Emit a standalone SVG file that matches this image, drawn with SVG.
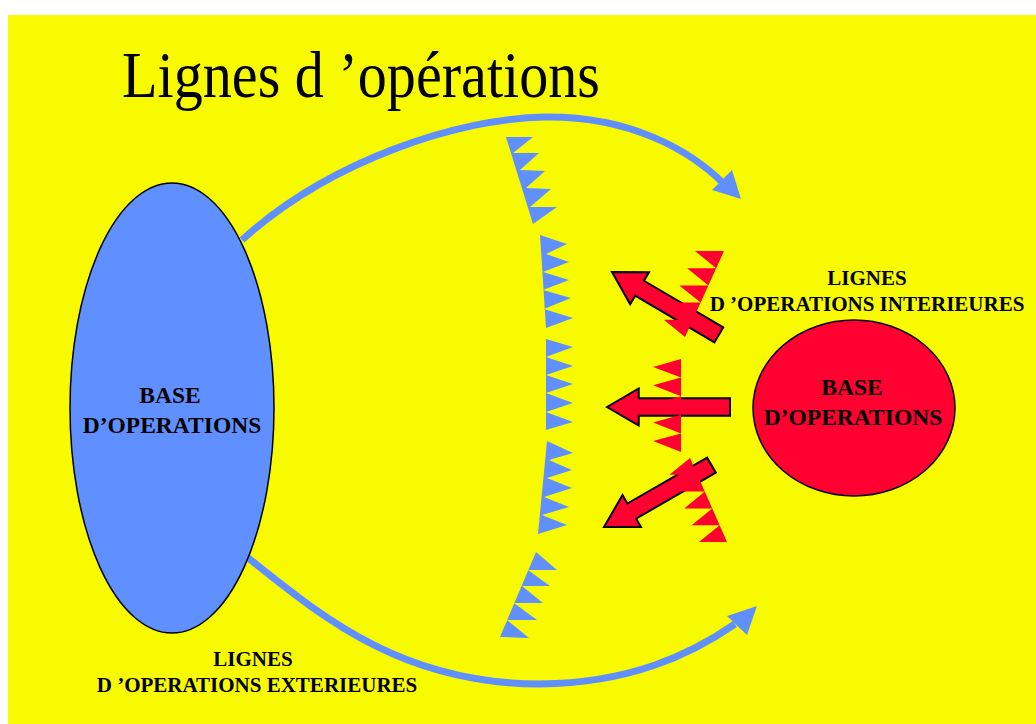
<svg xmlns="http://www.w3.org/2000/svg" xmlns:xlink="http://www.w3.org/1999/xlink" width="1036" height="724" viewBox="0 0 1036 724">
  <style>
    .title { font-family: "Liberation Serif", "Times New Roman", serif; font-size: 66px; fill: #000; }
    .base { font-family: "Liberation Serif", "Times New Roman", serif; font-weight: bold; font-size: 23.5px; fill: #000; text-anchor: middle; }
    .lbl { font-family: "Liberation Serif", "Times New Roman", serif; font-weight: bold; font-size: 21px; fill: #000; text-anchor: middle; }
    .arc { fill: none; stroke: #6090FF; stroke-width: 7; }
    .bluehead { fill: #6090FF; }
    .bluefront { fill: #6090FF; }
    .redfront { fill: #FF0030; }
    .redarrow { fill: #FF0030; stroke: #000; stroke-width: 2; stroke-linejoin: miter; }
  </style>
  <defs>
    <!-- thick arrow pointing along -x, tip at origin -->
    <path id="redArrow" d="M0,0 L32,-18.5 L32,-8.7 L124,-8.7 L124,8.7 L32,8.7 L32,18.5 Z"/>
  </defs>

  <!-- page -->
  <rect x="0" y="0" width="1036" height="724" fill="#FFFFFF"/>
  <rect x="8" y="15" width="1028" height="709" fill="#F8FB00"/>

  <text class="title" x="122" y="97" textLength="478" lengthAdjust="spacingAndGlyphs">Lignes d ’opérations</text>

  <!-- exterior lines of operations -->
  <g id="connectors">
    <path class="arc" d="M242,240 C330,160 460,118 545,117 C630,116 690,150 724,184"/>
    <polygon class="bluehead" points="741,199 732,170 712,190"/>
    <path class="arc" d="M247,557 C320,615 400,684 540,684 C630,683 690,655 735,624"/>
    <polygon class="bluehead" points="757,606 727,616 747,635"/>
  </g>

  <g id="base-left">
    <ellipse cx="172" cy="408" rx="102" ry="225" fill="#6090FF" stroke="#000" stroke-width="1.5"/>
    <text class="base" x="170" y="403">BASE</text>
    <text class="base" x="172" y="433">D’OPERATIONS</text>
  </g>

  <g id="base-right">
    <ellipse cx="854" cy="408" rx="101" ry="88" fill="#FF0030" stroke="#000" stroke-width="1.5"/>
    <text class="base" x="852" y="395">BASE</text>
    <text class="base" x="853" y="425">D’OPERATIONS</text>
  </g>

  <!-- blue front line -->
  <g id="blue-front">
    <polygon class="bluefront" points="506,137 533,137 513,153 539,153 520,170 545,171 526,188 551,189 530,207 557,207 533,224"/>
    <polygon class="bluefront" points="540,235 567,244 546,254 569,262 543,272 569,280 543,290 571,298 544,309 573,318 546,328"/>
    <polygon class="bluefront" points="546,339 573,347 546,357 573,366 546,375 573,384 546,393 573,403 546,412 573,422 546,430"/>
    <polygon class="bluefront" points="547,441 573,453 549,460 572,470 547,478 572,488 544,497 569,507 542,515 567,525 538,534"/>
    <polygon class="bluefront" points="536,552 557,570 528,570 550,586 522,586 543,603 514,603 537,620 507,620 529,638 500,637"/>
  </g>

  <!-- interior lines of operations -->
  <g id="red-arrows">
    <use xlink:href="#redArrow" class="redarrow" transform="translate(612,272) rotate(30.5)"/>
    <use xlink:href="#redArrow" class="redarrow" transform="translate(607,407) scale(0.992,1)"/>
    <use xlink:href="#redArrow" class="redarrow" transform="translate(604,527) rotate(-29.9)"/>
  </g>

  <!-- red front line -->
  <g id="red-front">
    <polygon class="redfront" points="724,251 695,251 716.2,268.2 687.2,268.2 708.4,285.4 679.4,285.4 700.6,302.6 671.6,302.6 692.8,319.8 663.8,319.8 685,337"/>
    <polygon class="redfront" points="681,359 653,367 681,377.6 653,385.3 681,396.2 653,404 681,414.8 653,422.5 681,433.4 653,441 681,452"/>
    <polygon class="redfront" points="690,458 669.4,474.8 697.4,474.8 676.8,491.6 704.8,491.6 684.2,508.4 712.2,508.4 691.6,525.2 719.6,525.2 699,542 727,542"/>
  </g>

  <g id="label-interior">
    <text class="lbl" x="867" y="285">LIGNES</text>
    <text class="lbl" x="867" y="311">D ’OPERATIONS INTERIEURES</text>
  </g>

  <g id="label-exterior">
    <text class="lbl" x="253" y="666">LIGNES</text>
    <text class="lbl" x="257" y="692">D ’OPERATIONS EXTERIEURES</text>
  </g>
</svg>
